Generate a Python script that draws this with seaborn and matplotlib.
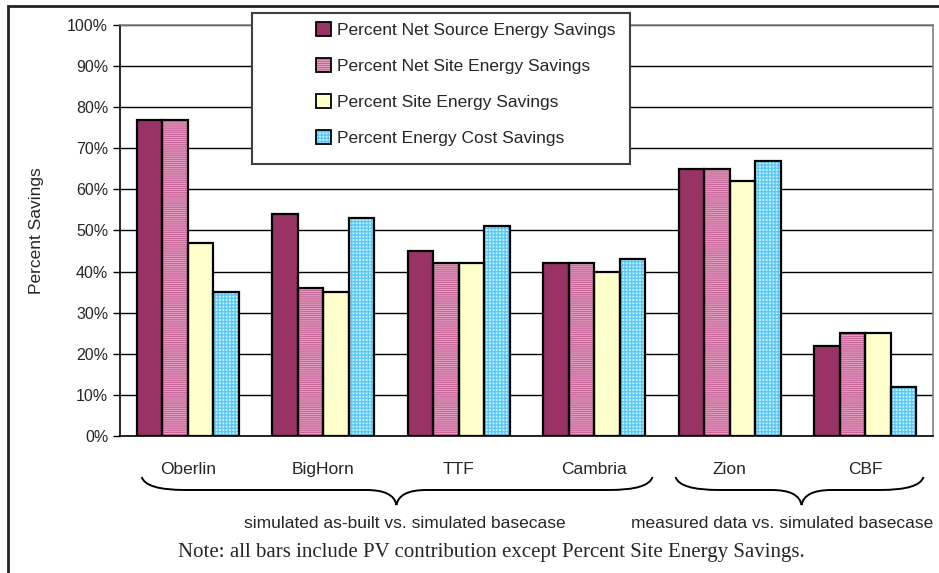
import numpy as np
import pandas as pd
import seaborn as sns
import matplotlib.pyplot as plt
from matplotlib.patches import Rectangle, Patch, PathPatch
from matplotlib.path import Path
from matplotlib.transforms import blended_transform_factory
from matplotlib.legend_handler import HandlerTuple

sites = ["Oberlin", "BigHorn", "TTF", "Cambria", "Zion", "CBF"]
metrics = [
    "Percent Net Source Energy Savings",
    "Percent Net Site Energy Savings",
    "Percent Site Energy Savings",
    "Percent Energy Cost Savings",
]
net_source = [77, 54, 45, 42, 65, 22]
net_site = [77, 36, 42, 42, 65, 25]
site = [47, 35, 42, 40, 62, 25]
cost = [35, 53, 51, 43, 67, 12]
yticks = list(range(0, 101, 10))
group_notes = ["simulated as-built vs. simulated basecase",
               "measured data vs. simulated basecase"]
note = "Note: all bars include PV contribution except Percent Site Energy Savings."

face_colors = ["#993366", "#EDB6D0", "#FFFFCC", "#C8F2FF"]
hatch_colors = ["#993366", "#C8679A", "#FFFFCC", "#5CC8F5"]
hatches = [None, "-" * 8, None, "+" * 5]

df = pd.DataFrame({
    "site": np.tile(sites, 4),
    "metric": np.repeat(metrics, len(sites)),
    "value": net_source + net_site + site + cost,
})

sns.set_style("white")
plt.rcParams["font.family"] = ["Liberation Sans", "DejaVu Sans"]
plt.rcParams["hatch.linewidth"] = 1.0

fig = plt.figure(figsize=(9.39, 5.73), dpi=100)
ax = fig.add_axes([120 / 939, 1 - 436 / 573, 813 / 939, 411 / 573])

sns.barplot(data=df, x="site", y="value", hue="metric", hue_order=metrics,
            order=sites, palette=dict(zip(metrics, face_colors)), saturation=1,
            width=0.75, ax=ax, legend=False, errorbar=None)

for i, cont in enumerate(ax.containers):
    for p in cont:
        p.set_hatch(hatches[i])
        p.set_edgecolor(hatch_colors[i])
        p.set_linewidth(0)
        ax.add_patch(Rectangle(p.get_xy(), p.get_width(), p.get_height(),
                               fill=False, ec="black", lw=1.6, zorder=3))

ax.set_ylim(0, 100)
ax.set_xlim(-0.5, len(sites) - 0.5)
ax.set_yticks(yticks)
ax.set_yticklabels([f"{v}%" for v in yticks], fontsize=11.5)
ax.set_xticks(range(len(sites)))
ax.set_xticklabels(sites, fontsize=12.5)
ax.set_xticks(np.arange(-0.5, len(sites)), minor=True)
ax.tick_params(axis="x", which="major", length=0, pad=19)
ax.tick_params(axis="x", which="minor", length=6, width=1, direction="out", color="black")
ax.tick_params(axis="y", length=5, width=1, direction="out", color="black", left=True)
ax.set_xlabel("")
ax.set_ylabel("Percent Savings", fontsize=12.5)
ax.yaxis.set_label_coords(-0.094, 0.5)
ax.grid(axis="y", color="black", lw=1)
ax.set_axisbelow(True)
for s in ["left", "bottom"]:
    ax.spines[s].set_color("black")
    ax.spines[s].set_linewidth(1.2)
for s in ["top", "right"]:
    ax.spines[s].set_color("#808080")
    ax.spines[s].set_linewidth(1.2)

# curly braces under the category groups
tr = blended_transform_factory(ax.transData, fig.transFigure)
ye, yl, yt = 1 - 477 / 573, 1 - 490 / 573, 1 - 505 / 573


def brace(x0, x1, xm):
    verts = [(x0, ye), (x0 + 0.03, yl), (x0 + 0.32, yl),
             (xm - 0.22, yl), (xm - 0.02, yl), (xm, yt),
             (xm + 0.02, yl), (xm + 0.22, yl),
             (x1 - 0.32, yl), (x1 - 0.03, yl), (x1, ye)]
    codes = [Path.MOVETO, Path.CURVE3, Path.CURVE3, Path.LINETO,
             Path.CURVE3, Path.CURVE3, Path.CURVE3, Path.CURVE3,
             Path.LINETO, Path.CURVE3, Path.CURVE3]
    fig.add_artist(PathPatch(Path(verts, codes), fill=False, lw=1.4,
                             ec="black", transform=tr))


brace(-0.34, 3.43, 1.54)
brace(3.6, 5.43, 4.53)
fig.text(1.6, 1 - 523 / 573, group_notes[0], transform=tr, ha="center",
         va="center", fontsize=12.5)
fig.text(4.39, 1 - 523 / 573, group_notes[1], transform=tr, ha="center",
         va="center", fontsize=12.5)
fig.text(491 / 939, 1 - 553 / 573, note, ha="center", va="center",
         fontsize=15, family="Liberation Serif")

# outer frame
fig.add_artist(Rectangle((8 / 939, -0.1), 1.5, 1 - 6 / 573 + 0.1,
                         transform=fig.transFigure, fill=False, ec="#222222", lw=2))

# legend box and entries
fig.add_artist(Rectangle((252 / 939, 1 - 164 / 573), 378 / 939, 151 / 573,
                         transform=fig.transFigure, fc="white", ec="#404040",
                         lw=1.5, zorder=5))
handles = []
for i in range(4):
    handles.append((Patch(fc=face_colors[i], ec=hatch_colors[i], hatch=hatches[i], lw=0),
                    Patch(fill=False, ec="black", lw=1.3)))
leg = fig.legend(handles, metrics, loc="upper left",
                 bbox_to_anchor=(316 / 939, 1 - 22 / 573), frameon=False,
                 fontsize=12.5, handlelength=0.85, handleheight=0.85,
                 handletextpad=0.35, labelspacing=1.15, borderpad=0,
                 borderaxespad=0, handler_map={tuple: HandlerTuple(ndivide=1)})
leg.set_zorder(6)

fig.savefig("out.png", dpi=100)
